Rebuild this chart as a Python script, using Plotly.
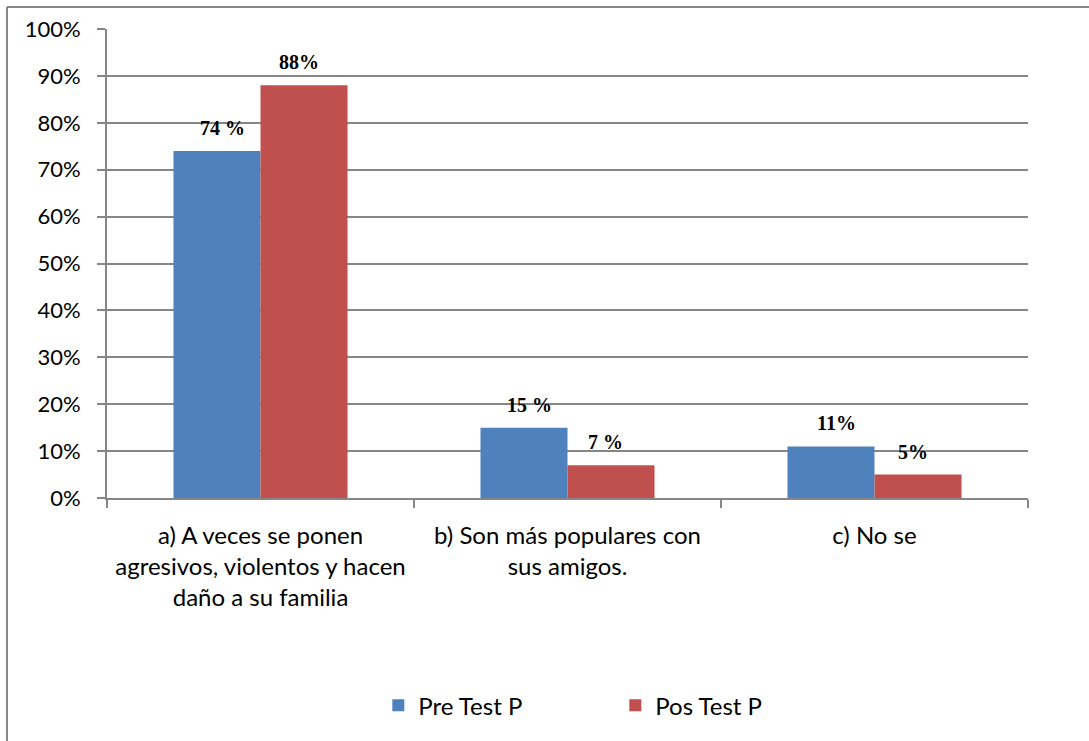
import plotly.graph_objects as go

categories = ["a) A veces se ponen<br>agresivos, violentos y hacen<br>daño a su familia",
              "b) Son más populares con<br>sus amigos.",
              "c) No se"]
pre_values = [0.74, 0.15, 0.11]
pos_values = [0.88, 0.07, 0.05]
pre_labels = ["74 %", "15 %", "11%"]
pos_labels = ["88%", "7 %", "5%"]
series_names = ["Pre Test P", "Pos Test P"]
ytick_vals = [i / 10 for i in range(11)]
ytick_text = [f"{i * 10}%" for i in range(11)]

BLUE = "#4F81BD"
RED = "#C0504D"
GRID = "#868686"
FONT = "Lato, 'Open Sans', sans-serif"

fig = go.Figure()
fig.add_trace(go.Bar(x=categories, y=pre_values, name=series_names[0],
                     marker=dict(color=BLUE, line=dict(width=0))))
fig.add_trace(go.Bar(x=categories, y=pos_values, name=series_names[1],
                     marker=dict(color=RED, line=dict(width=0))))

annotations = []
for vals, labels, off in ((pre_values, pre_labels, -1), (pos_values, pos_labels, 1)):
    for i, (v, t) in enumerate(zip(vals, labels)):
        annotations.append(dict(
            x=i, y=v, xref="x", yref="y", text=f"<b>{t}</b>",
            showarrow=False, yanchor="bottom", yshift=10,
            xshift=off * 38,
            font=dict(family="'Liberation Serif', 'Times New Roman', serif", size=20, color="#000000"),
        ))

fig.update_layout(
    width=1089, height=741,
    margin=dict(l=107, r=61, t=29, b=243),
    paper_bgcolor="white", plot_bgcolor="white",
    barmode="group", bargap=0.433, bargroupgap=0,
    font=dict(family=FONT, size=22, color="#000000"),
    showlegend=True,
    legend=dict(orientation="h", x=0.2946, xanchor="left", y=-0.443, yanchor="middle",
                font=dict(family=FONT, size=24, color="#000000"),
                entrywidth=192, entrywidthmode="pixels", itemwidth=30,
                traceorder="normal", bgcolor="rgba(0,0,0,0)"),
    annotations=annotations,
    shapes=[
        dict(type="line", xref="paper", yref="paper", x0=-0.1086, x1=1.07, y0=1.0469, y1=1.0469,
             line=dict(color=GRID, width=2)),
        dict(type="line", xref="paper", yref="paper", x0=-0.1086, x1=-0.1086, y0=1.0469, y1=-0.52,
             line=dict(color=GRID, width=2)),
    ],
)
fig.update_yaxes(range=[0, 1], tickvals=ytick_vals, ticktext=ytick_text,
                 showgrid=True, gridcolor=GRID, gridwidth=1.5,
                 showline=True, linecolor=GRID, linewidth=2,
                 ticks="outside", ticklen=8, tickcolor=GRID, tickwidth=2,
                 tickfont=dict(family=FONT, size=22), zeroline=False,
                 ticklabelstandoff=12)
fig.update_xaxes(showline=True, linecolor=GRID, linewidth=2,
                 ticks="outside", ticklen=8, tickcolor=GRID, tickwidth=2,
                 tickson="boundaries", showgrid=False,
                 tickfont=dict(family=FONT, size=24), ticklabelstandoff=15)

fig.write_html("out.html", post_script="document.body.style.margin='0';",
               config={"displayModeBar": False})
